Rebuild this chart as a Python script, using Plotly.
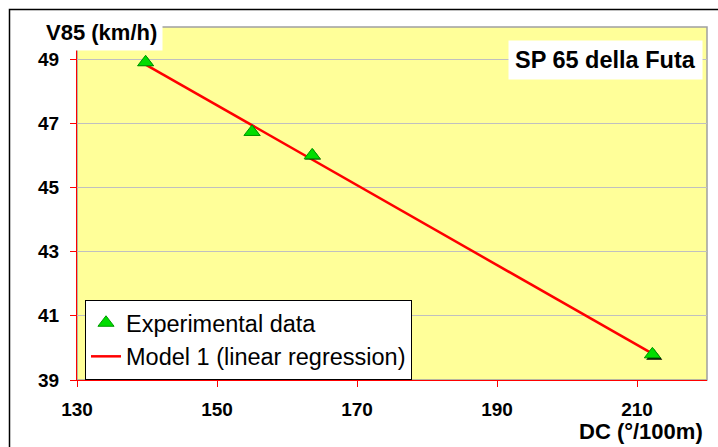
import plotly.graph_objects as go

# Data
dc_exp = [139.8, 155.0, 163.6, 212.2]
v85_exp = [48.9, 46.73, 46.0, 39.8]
dc_model = [139.8, 212.2]
v85_model = [48.83, 39.82]

x_range = [130, 220]
y_range = [39, 50]
x_ticks = [130, 150, 170, 190, 210]
y_ticks = [39, 41, 43, 45, 47, 49]

W, H = 718, 447
ml, mr, mt, mb = 77, 11, 27, 67
pw = W - ml - mr
ph = H - mt - mb
FONT = "Liberation Sans, Arial, sans-serif"

def px2paper_x(px):
    return (px - ml) / pw

def px2paper_y(py):
    return (H - mb - py) / ph

shadow = 2  # px
sx_range = [x_range[0], x_range[1] - (x_range[1] - x_range[0]) * shadow / pw]
sy_range = [y_range[0] + (y_range[1] - y_range[0]) * shadow / ph, y_range[1]]

fig = go.Figure()

fig.add_trace(go.Scatter(
    x=dc_model, y=v85_model, mode="lines", name="Model 1 (linear regression)",
    line=dict(color="#FF0000", width=2.5), legendgroup="b", legendrank=2))

# shadow of triangles (overlay axes shifted by a couple of pixels)
fig.add_trace(go.Scatter(
    x=dc_exp, y=v85_exp, mode="markers", xaxis="x2", yaxis="y2",
    marker=dict(symbol="triangle-up", size=14, color="black", line=dict(width=0)),
    showlegend=False, hoverinfo="skip"))

fig.add_trace(go.Scatter(
    x=dc_exp, y=v85_exp, mode="markers", name="Experimental data",
    xaxis="x3", yaxis="y3",
    marker=dict(symbol="triangle-up", size=14, color="#00DD00",
                line=dict(color="#009900", width=1)),
    legendgroup="a", legendrank=1))

fig.update_layout(
    width=W, height=H,
    margin=dict(l=ml, r=mr, t=mt, b=mb),
    paper_bgcolor="white",
    plot_bgcolor="#FFFF99",
    font=dict(family=FONT, color="black"),
    xaxis=dict(range=x_range, tickvals=x_ticks, showgrid=False, zeroline=False,
               showline=True, linecolor="#FF0000", linewidth=1,
               ticks="outside", ticklen=6, tickcolor="#FF0000", tickwidth=1,
               tickfont=dict(size=19, family=FONT, weight="bold"),
               ticklabelstandoff=6, domain=[0, 1]),
    yaxis=dict(range=y_range, tickvals=y_ticks, showgrid=True, gridcolor="#C0C0C0",
               gridwidth=1, zeroline=False,
               showline=True, linecolor="#FF0000", linewidth=1,
               ticks="outside", ticklen=6, tickcolor="#FF0000", tickwidth=1,
               tickfont=dict(size=19, family=FONT, weight="bold"),
               ticklabelstandoff=7, domain=[0, 1]),
    xaxis2=dict(range=sx_range, domain=[shadow / pw, 1], visible=False,
                overlaying="x", anchor="y2"),
    yaxis2=dict(range=sy_range, domain=[0, 1 - shadow / ph], visible=False,
                overlaying="y", anchor="x2"),
    xaxis3=dict(range=x_range, domain=[0, 1], visible=False,
                overlaying="x", anchor="y3"),
    yaxis3=dict(range=y_range, domain=[0, 1], visible=False,
                overlaying="y", anchor="x3"),
    legend=dict(x=px2paper_x(85), y=px2paper_y(300), xanchor="left", yanchor="top",
                bgcolor="white", bordercolor="black", borderwidth=1,
                font=dict(size=23.5, family=FONT), traceorder="grouped",
                tracegroupgap=0),
    showlegend=True,
)

# plot area border (gray) and outer frame
fig.add_shape(type="rect", xref="paper", yref="paper", x0=0, x1=1, y0=0, y1=1,
              line=dict(color="#A0A0A0", width=1.5), layer="below")
fig.add_shape(type="rect", xref="paper", yref="paper",
              x0=px2paper_x(9.5), x1=px2paper_x(730), y0=px2paper_y(460), y1=px2paper_y(9.5),
              line=dict(color="black", width=1.5))

fig.add_annotation(text="V85 (km/h)", xref="paper", yref="paper",
                   x=px2paper_x(101.5), y=px2paper_y(32), showarrow=False,
                   xanchor="center", yanchor="middle",
                   font=dict(size=22, family=FONT, weight="bold"),
                   bgcolor="white", borderpad=5)
fig.add_annotation(text="SP 65 della Futa", xref="paper", yref="paper",
                   x=px2paper_x(605), y=px2paper_y(60.5), showarrow=False,
                   xanchor="center", yanchor="middle",
                   font=dict(size=23.5, family=FONT, weight="bold"),
                   bgcolor="white", borderpad=6)
fig.add_annotation(text="DC (°/100m)", xref="paper", yref="paper",
                   x=px2paper_x(640.5), y=px2paper_y(431), showarrow=False,
                   xanchor="center", yanchor="middle",
                   font=dict(size=22, family=FONT, weight="bold"))

fig.write_html("out.html")
